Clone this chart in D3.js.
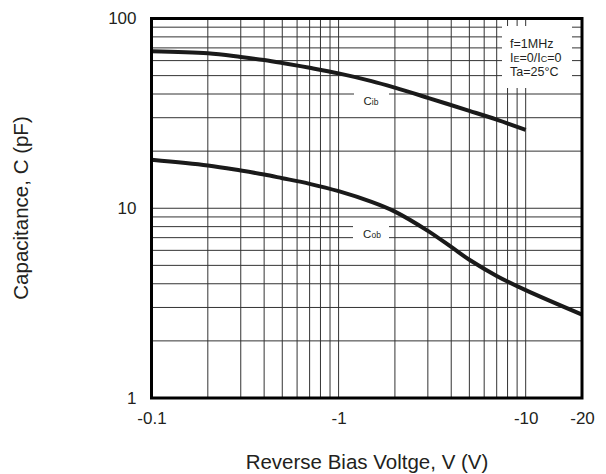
<!DOCTYPE html>
<html>
<head>
<meta charset="utf-8">
<script src="https://cdn.jsdelivr.net/npm/d3@7"></script>
<style>
  body { margin: 0; background: #fff; }
  text { font-family: "Liberation Sans", Arial, sans-serif; fill: #231f20; }
</style>
</head>
<body>
<div id="main"></div>
<script>
// reverse bias (magnitude, V) and capacitance (pF)
const vCib = [0.1, 0.2, 0.3, 0.4, 0.5, 0.7, 1, 1.5, 2, 3, 5, 7, 10];
const cib = [67.3, 65.6, 62.7, 60.4, 58.3, 55.0, 51.4, 46.8, 43.2, 38.2, 32.6, 29.3, 25.9];

const vCob = [0.1, 0.2, 0.3, 0.4, 0.5, 0.7, 1, 1.5, 2, 3, 4, 5, 7, 10, 20];
const cob = [18.0, 16.8, 15.8, 15.05, 14.4, 13.45, 12.3, 10.8, 9.6, 7.6, 6.25, 5.35, 4.4, 3.7, 2.75];

const xTicks = [0.1, 1, 10, 20];
const yTicks = [1, 10, 100];
const legendLines = [["f=1MHz"], ["I", "E", "=0/I", "C", "=0"], ["Ta=25°C"]];

const width = 606;
const height = 474;
const margin = { top: 18.5, right: 24, bottom: 76, left: 151.5 };

const x = d3.scaleLog().domain([0.1, 20]).range([margin.left, width - margin.right]);
const y = d3.scaleLog().domain([1, 100]).range([height - margin.bottom, margin.top]);

const svg = d3.select("#main").append("svg")
    .attr("width", width)
    .attr("height", height);

// grid
const grid = svg.append("g").attr("stroke", "#333").attr("stroke-width", 1);
grid.selectAll("line.v")
    .data(x.ticks())
    .enter().append("line")
    .attr("x1", d => x(d)).attr("x2", d => x(d))
    .attr("y1", y(100)).attr("y2", y(1));
grid.selectAll("line.h")
    .data(y.ticks())
    .enter().append("line")
    .attr("x1", x(0.1)).attr("x2", x(20))
    .attr("y1", d => y(d)).attr("y2", d => y(d));

// white boxes over the grid for the labels
svg.append("rect").attr("x", 502).attr("y", 26).attr("width", 70).attr("height", 62).attr("fill", "#fff");
svg.append("rect").attr("x", 354).attr("y", 89).attr("width", 35).attr("height", 19).attr("fill", "#fff");
svg.append("rect").attr("x", 353).attr("y", 224).attr("width", 36).attr("height", 17).attr("fill", "#fff");

// curves
const line = d3.line()
    .x(d => x(d[0]))
    .y(d => y(d[1]))
    .curve(d3.curveCatmullRom.alpha(0.5));

svg.append("path")
    .datum(d3.zip(vCib, cib))
    .attr("fill", "none")
    .attr("stroke", "#1a1a1a")
    .attr("stroke-width", 4)
    .attr("d", line);

svg.append("path")
    .datum(d3.zip(vCob, cob))
    .attr("fill", "none")
    .attr("stroke", "#1a1a1a")
    .attr("stroke-width", 4)
    .attr("d", line);

// frame
svg.append("rect")
    .attr("x", x(0.1)).attr("y", y(100))
    .attr("width", x(20) - x(0.1)).attr("height", y(1) - y(100))
    .attr("fill", "none").attr("stroke", "#000").attr("stroke-width", 3);

// axes
const xAxis = svg.append("g")
    .attr("transform", `translate(0,${y(1)})`)
    .call(d3.axisBottom(x).tickValues(xTicks).tickSize(0).tickPadding(14).tickFormat(d => "-" + d));
xAxis.select(".domain").remove();
xAxis.selectAll("text").attr("font-size", 17).attr("font-family", null).attr("fill", null);

const yAxis = svg.append("g")
    .attr("transform", `translate(${x(0.1)},0)`)
    .call(d3.axisLeft(y).tickValues(yTicks).tickSize(0).tickPadding(15).tickFormat(d3.format("d")));
yAxis.select(".domain").remove();
yAxis.selectAll("text").attr("font-size", 17).attr("font-family", null).attr("fill", null);

// titles
svg.append("text")
    .attr("x", 367).attr("y", 469)
    .attr("text-anchor", "middle")
    .attr("font-size", 20.5)
    .text("Reverse Bias Voltge, V (V)");

svg.append("text")
    .attr("transform", "translate(28,208) rotate(-90)")
    .attr("text-anchor", "middle")
    .attr("font-size", 20.5)
    .text("Capacitance, C (pF)");

// legend
legendLines.forEach((parts, i) => {
  const t = svg.append("text")
      .attr("x", 510).attr("y", 47.5 + i * 14.3)
      .attr("font-size", 12.5);
  parts.forEach((p, j) => {
    t.append("tspan").attr("font-size", parts.length > 1 && j % 2 === 1 ? 9 : 12.5).text(p);
  });
});

// curve labels
function subLabel(cx, cy, main, sub) {
  const t = svg.append("text").attr("x", cx).attr("y", cy).attr("text-anchor", "middle");
  t.append("tspan").attr("font-size", 11.5).text(main);
  t.append("tspan").attr("font-size", 8.5).text(sub);
}
subLabel(371, 105, "C", "ib");
subLabel(372, 238, "C", "ob");
</script>
</body>
</html>
